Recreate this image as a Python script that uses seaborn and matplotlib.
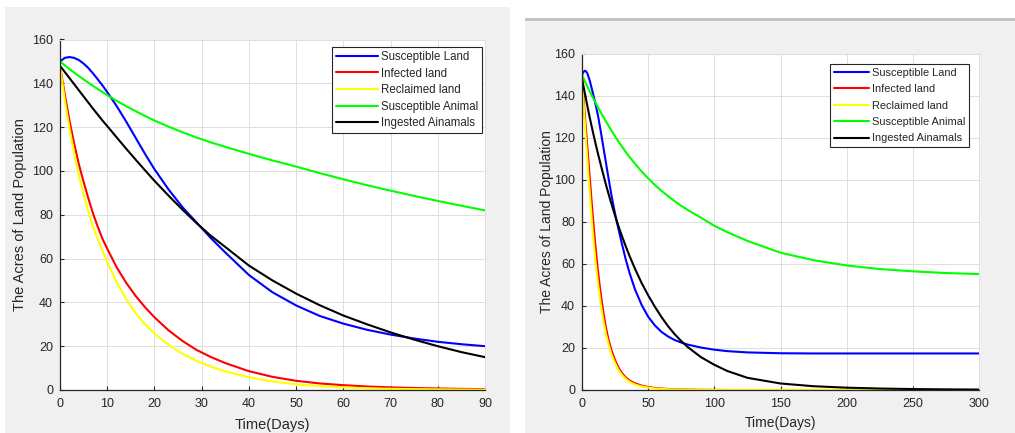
import matplotlib
matplotlib.use("Agg")
import matplotlib.pyplot as plt
from matplotlib.patches import Rectangle
import seaborn as sns
import pandas as pd

# ---------------- data ----------------
series_names = ["Susceptible Land", "Infected land", "Reclaimed land",
                "Susceptible Animal", "Ingested Ainamals"]
series_colors = ["#0000ff", "#ff0000", "#ffff00", "#00ff00", "#000000"]

# Left panel (0-90 days)
left_t = [0, 1, 2, 3, 4, 5, 6, 7, 8, 9, 10, 12, 14, 16, 18, 20, 23, 26, 29, 32,
          35, 40, 45, 50, 55, 60, 65, 70, 75, 80, 85, 90]
left_sus_land = [150, 151.6, 152, 151.6, 150.6, 149, 147, 144.5, 141.8, 139, 136,
                 129.6, 122.6, 115.2, 107.8, 100.8, 91.5, 83.3, 76.3, 69.2,
                 62.8, 52.5, 44.6, 38.6, 33.8, 30.3, 27.5, 25.3, 23.5, 22, 20.9, 20]
left_inf_land = [148, 135, 123, 112.5, 103, 95, 87.5, 80.5, 74.5, 69, 64.5,
                 56, 49, 43, 37.8, 33.2, 27.2, 22.3, 18.2, 15,
                 12.3, 8.6, 6, 4.2, 3, 2.2, 1.6, 1.2, 0.9, 0.7, 0.5, 0.4]
left_rec_land = [148, 132.5, 119.5, 108, 98, 89.5, 81.5, 74.5, 69, 63.5, 58.5,
                 49.2, 41.5, 35.2, 30, 25.8, 20.5, 16.5, 13.2, 10.6,
                 8.5, 5.8, 3.9, 2.6, 1.8, 1.2, 0.8, 0.55, 0.4, 0.3, 0.2, 0.15]
left_sus_animal = [150, 148.2, 146.5, 144.9, 143.3, 141.8, 140.3, 138.8, 137.4, 136, 134.6,
                   132, 129.6, 127.3, 125.1, 123, 120.2, 117.6, 115.2, 113,
                   111, 107.8, 104.8, 102, 99, 96.2, 93.5, 91, 88.6, 86.3, 84.1, 82]
left_ing_animal = [148, 145.2, 142.4, 139.6, 136.8, 134, 131.2, 128.4, 125.7, 123, 120.5,
                   115.3, 110.2, 105.2, 100.3, 95.5, 88.7, 82.2, 76, 70.3,
                   65.3, 56.8, 50, 44, 38.7, 34, 30, 26.3, 23, 20, 17.3, 15]

# Right panel (0-300 days)
right_t = [0, 1, 2, 3, 4, 5, 6, 8, 10, 12, 14, 16, 18, 20, 22, 24, 26, 28, 30, 33,
           36, 40, 45, 50, 55, 60, 65, 70, 75, 80, 90, 100, 110, 125, 150, 175,
           200, 225, 250, 275, 300]
right_sus_land = [150, 151.3, 152, 151.8, 150.8, 149, 147, 142, 136.7, 131, 123.8,
                  116.2, 108.6, 101, 93.7, 87, 81, 75.4, 70, 62.3,
                  55.6, 48, 40.6, 34.9, 30.8, 27.7, 25.5, 23.8, 22.6, 21.6, 20.2,
                  19.2, 18.5, 17.9, 17.5, 17.4, 17.4, 17.4, 17.4, 17.4, 17.4]
right_inf_land = [148, 140, 132, 124, 116, 108, 100, 84, 69.5, 57, 46.5,
                  37.5, 30, 24, 19.5, 15.8, 12.7, 10.2, 8.2, 6,
                  4.5, 3.2, 2.1, 1.4, 1, 0.7, 0.5, 0.35, 0.25, 0.2, 0.1,
                  0.05, 0, 0, 0, 0, 0, 0, 0, 0, 0]
right_rec_land = [148, 138, 128.5, 119, 110, 101, 92.5, 76, 62.5, 51, 41.5,
                  33.5, 27, 21.8, 17.5, 14.2, 11.4, 9.1, 7.3, 5.3,
                  3.9, 2.6, 1.7, 1.1, 0.75, 0.5, 0.35, 0.25, 0.18, 0.13, 0.07,
                  0.04, 0, 0, 0, 0, 0, 0, 0, 0, 0]
right_sus_animal = [150, 148.6, 147.2, 145.9, 144.6, 143.3, 142, 139.5, 137.1, 134.7, 132.4,
                    130.2, 128, 125.9, 123.8, 121.8, 119.8, 117.9, 116.1, 113.4,
                    110.9, 107.8, 104.1, 100.8, 97.7, 94.9, 92.3, 89.9, 87.7, 85.7, 82,
                    78.2, 75.1, 71, 65.4, 61.8, 59.3, 57.6, 56.5, 55.7, 55.2]
right_ing_animal = [148, 145, 141.8, 138.6, 135.4, 132.3, 129.3, 123.5, 118, 112.7, 107.7,
                    102.8, 98, 93.5, 89.2, 85, 81, 77.2, 73.6, 68.5,
                    63.7, 57.8, 51, 45.1, 39.7, 34.8, 30.4, 26.6, 23.3, 20.4, 15.6,
                    12, 9, 5.8, 3.1, 1.8, 1.1, 0.7, 0.45, 0.3, 0.2]

left_xticks = [0, 10, 20, 30, 40, 50, 60, 70, 80, 90]
right_xticks = [0, 50, 100, 150, 200, 250, 300]
yticks = [0, 20, 40, 60, 80, 100, 120, 140, 160]
x_label = "Time(Days)"
y_label = "The Acres of Land Population"

# ---------------- style ----------------
sns.set_theme(style="white")
plt.rcParams["font.family"] = ["Liberation Sans", "DejaVu Sans"]
TXT = "#262626"
GRID = "#dedede"
PANEL = "#f0f0f0"

fig = plt.figure(figsize=(10.15, 4.33), dpi=100)
fig.patch.set_facecolor("white")
W, H = 1015, 433


def px_rect(x0, y0, x1, y1, **kw):
    return Rectangle((x0 / W, 1 - y1 / H), (x1 - x0) / W, (y1 - y0) / H,
                     transform=fig.transFigure, **kw)


fig.add_artist(px_rect(5, 7, 510, 433, facecolor=PANEL, edgecolor="none", zorder=0))
fig.add_artist(px_rect(525, 19, 1015, 433, facecolor=PANEL, edgecolor="none", zorder=0))
fig.add_artist(px_rect(525, 18, 1015, 20.5, facecolor="#c4c4c4", edgecolor="none", zorder=0))

ax_l = fig.add_axes([60 / W, 1 - 390 / H, 425 / W, 350.5 / H])
ax_r = fig.add_axes([582 / W, 1 - 390 / H, 397 / W, 336 / H])


def draw(ax, t, ys, xlim, xticks, tick_fs, lab_fs, leg_fs, leg_anchor, ylab_x, xlab_y,
         handle_len, label_sp):
    ax.set_facecolor("white")
    df = pd.DataFrame({"t": t})
    for name, col, y in zip(series_names, series_colors, ys):
        df[name] = y
        sns.lineplot(data=df, x="t", y=name, color=col, linewidth=1.5,
                     label=name, ax=ax, sort=False, estimator=None)
    ax.set_xlim(*xlim)
    ax.set_ylim(0, 160)
    ax.set_xticks(xticks)
    ax.set_yticks(yticks)
    ax.grid(True, color=GRID, linewidth=0.7)
    ax.set_axisbelow(True)
    for s in ["left", "bottom"]:
        ax.spines[s].set_color(TXT)
        ax.spines[s].set_linewidth(0.9)
    for s in ["top", "right"]:
        ax.spines[s].set_color(GRID)
        ax.spines[s].set_linewidth(0.7)
    ax.tick_params(axis="both", direction="in", length=3, width=0.8, color=TXT,
                   labelcolor=TXT, labelsize=tick_fs, bottom=True, left=True,
                   top=False, right=False)
    ax.tick_params(axis="x", pad=6)
    ax.tick_params(axis="y", pad=5)
    ax.set_xlabel(x_label, fontsize=lab_fs, color=TXT, va="center")
    ax.set_ylabel(y_label, fontsize=lab_fs, color=TXT, va="center")
    ax.yaxis.set_label_coords(ylab_x, 0.5)
    ax.xaxis.set_label_coords(0.5, xlab_y)
    leg = ax.legend(loc="upper right", bbox_to_anchor=leg_anchor, borderaxespad=0,
                    fontsize=leg_fs, frameon=True, fancybox=False, framealpha=1,
                    edgecolor=TXT, handlelength=handle_len, handletextpad=0.25,
                    labelspacing=label_sp, borderpad=0.35)
    leg.get_frame().set_linewidth(0.8)
    for tx in leg.get_texts():
        tx.set_color(TXT)


draw(ax_l, left_t,
     [left_sus_land, left_inf_land, left_rec_land, left_sus_animal, left_ing_animal],
     (0, 90), left_xticks, 9, 10.5, 8.3, (0.993, 0.979), -0.094, -0.10, 3.6, 0.40)
draw(ax_r, right_t,
     [right_sus_land, right_inf_land, right_rec_land, right_sus_animal, right_ing_animal],
     (0, 300), right_xticks, 9, 10, 7.9, (0.975, 0.970), -0.088, -0.098, 3.2, 0.58)

fig.savefig("out.png", dpi=100, facecolor="white")
